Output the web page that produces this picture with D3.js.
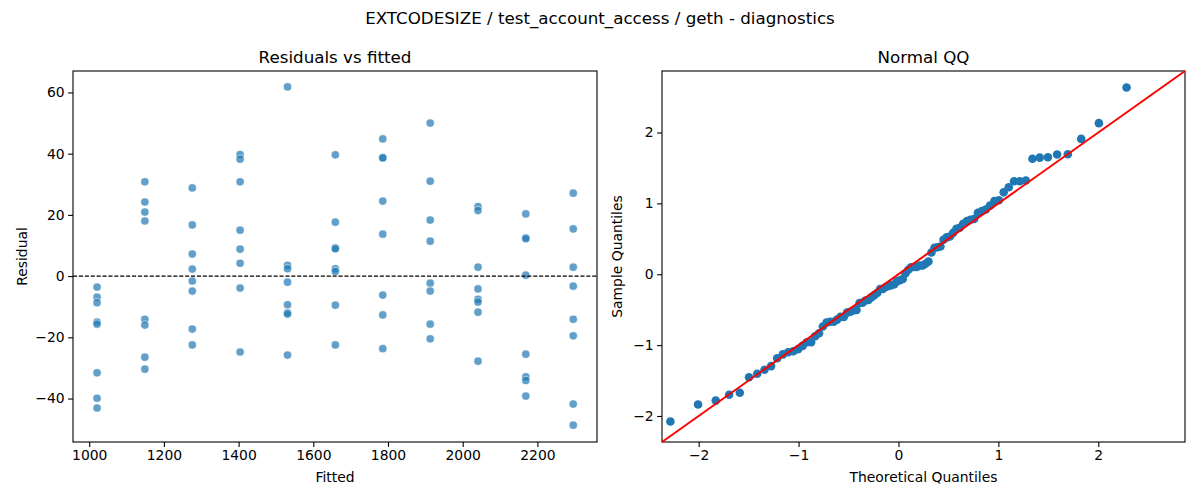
<!DOCTYPE html>
<html>
<head>
<meta charset="utf-8">
<script src="https://cdn.jsdelivr.net/npm/d3@7"></script>
<style>
  body { margin: 0; background: #fff; }
  text { font-family: "DejaVu Sans", sans-serif; fill: #000; }
</style>
</head>
<body>
<svg id="chart" width="1200" height="500"></svg>
<script>
// residuals vs fitted, one column of points per fitted level
const fittedLevels = [1021, 1149, 1276, 1404, 1531, 1659, 1786, 1913, 2041, 2169, 2296];
const residualsByLevel = [
  [-3.6, -6.9, -8.7, -15.0, -15.7, -31.6, -39.9, -43.1],
  [30.8, 24.2, 20.9, 18.0, -14.1, -16.0, -26.5, -30.4],
  [28.8, 16.7, 7.2, 2.3, -1.6, -4.9, -17.3, -22.5],
  [39.7, 38.2, 30.8, 15.0, 8.8, 4.2, -3.9, -24.8],
  [61.8, 3.5, 2.4, -2.0, -9.4, -12.0, -12.4, -25.8],
  [39.6, 17.6, 9.2, 8.9, 2.4, 1.5, -9.5, -22.5],
  [44.8, 38.7, 38.6, 24.5, 13.7, -6.2, -12.7, -23.7],
  [50.0, 31.0, 18.3, 11.4, -2.3, -4.9, -15.7, -20.5],
  [22.7, 21.4, 2.9, -4.2, -7.6, -8.5, -11.8, -27.8],
  [20.3, 12.5, 12.2, 0.3, -25.5, -32.9, -34.1, -39.2],
  [27.1, 15.4, 2.9, -3.3, -14.1, -19.5, -41.8, -48.7]
];
const fittedTicks = [1000, 1200, 1400, 1600, 1800, 2000, 2200];
const residualTicks = [-40, -20, 0, 20, 40, 60];

// normal QQ points
const theoreticalQ = [
  -2.283, -2.006, -1.829, -1.695, -1.588, -1.496, -1.414, -1.341, -1.275, -1.214,
  -1.157, -1.104, -1.053, -1.005, -0.960, -0.916, -0.874, -0.834, -0.795, -0.757,
  -0.720, -0.684, -0.648, -0.614, -0.580, -0.547, -0.515, -0.483, -0.451, -0.420,
  -0.390, -0.360, -0.330, -0.300, -0.271, -0.242, -0.213, -0.184, -0.156, -0.127,
  -0.099, -0.0705, -0.0423, -0.0141,
  0.0141, 0.0423, 0.0705, 0.099, 0.127, 0.156, 0.184, 0.213, 0.242, 0.271,
  0.300, 0.330, 0.360, 0.390, 0.420, 0.451, 0.483, 0.515, 0.547, 0.580,
  0.614, 0.648, 0.684, 0.720, 0.757, 0.795, 0.834, 0.874, 0.916, 0.960,
  1.005, 1.053, 1.104, 1.157, 1.214, 1.275, 1.341, 1.414, 1.496, 1.588,
  1.695, 1.829, 2.006, 2.283
];
const sampleQ = [
  -2.077, -1.838, -1.783, -1.701, -1.672, -1.454, -1.403, -1.348, -1.296, -1.186,
  -1.130, -1.100, -1.087, -1.058, -1.011, -0.959, -0.959, -0.874, -0.832, -0.738,
  -0.682, -0.670, -0.670, -0.640, -0.601, -0.601, -0.542, -0.529, -0.512, -0.503,
  -0.405, -0.401, -0.371, -0.362, -0.324, -0.294, -0.264, -0.209, -0.209, -0.179,
  -0.166, -0.154, -0.141, -0.098, -0.085, -0.068,
  0.013, 0.064, 0.098, 0.102, 0.102, 0.124, 0.124, 0.149, 0.179, 0.307,
  0.375, 0.380, 0.392, 0.486, 0.520, 0.533, 0.584, 0.640, 0.657, 0.712,
  0.751, 0.768, 0.780, 0.866, 0.891, 0.913, 0.968, 1.032, 1.045, 1.156,
  1.228, 1.313, 1.313, 1.322, 1.629, 1.646, 1.650, 1.689, 1.693, 1.910,
  2.132, 2.635
];
const qqTicks = [-2, -1, 0, 1, 2];
const qqLimits = [-2.367, 2.868];

const svg = d3.select('#chart');
const tickFont = '13.9px';
const labelFont = '13.9px';
const titleFont = '16.7px';
const intFmt = d3.format('d');

svg.append('text')
  .attr('x', 600).attr('y', 24)
  .attr('text-anchor', 'middle')
  .style('font-size', titleFont)
  .text('EXTCODESIZE / test_account_access / geth - diagnostics');

// draws frame, ticks, title and axis labels for one panel
function drawFrame(box, x, y, xTicks, yTicks, title, xLabel, yLabel, yLabelX) {
  const g = svg.append('g');
  g.append('g')
    .attr('transform', `translate(0,${box.bottom})`)
    .call(d3.axisBottom(x).tickValues(xTicks).tickFormat(intFmt)
      .tickSize(4.9).tickSizeOuter(0).tickPadding(3.5))
    .call(a => a.select('.domain').remove())
    .call(a => a.selectAll('text').style('font-size', tickFont).attr('font-family', null))
    .call(a => a.selectAll('line').attr('stroke', '#000').attr('stroke-width', 1.1));
  g.append('g')
    .attr('transform', `translate(${box.left},0)`)
    .call(d3.axisLeft(y).tickValues(yTicks).tickFormat(intFmt)
      .tickSize(4.9).tickSizeOuter(0).tickPadding(3.5))
    .call(a => a.select('.domain').remove())
    .call(a => a.selectAll('text').style('font-size', tickFont).attr('font-family', null))
    .call(a => a.selectAll('line').attr('stroke', '#000').attr('stroke-width', 1.1));
  g.append('rect')
    .attr('x', box.left).attr('y', box.top)
    .attr('width', box.right - box.left).attr('height', box.bottom - box.top)
    .attr('fill', 'none').attr('stroke', '#000').attr('stroke-width', 1.1);
  const cx = (box.left + box.right) / 2;
  g.append('text')
    .attr('x', cx).attr('y', box.top - 8.3)
    .attr('text-anchor', 'middle').style('font-size', titleFont)
    .text(title);
  g.append('text')
    .attr('x', cx).attr('y', 482)
    .attr('text-anchor', 'middle').style('font-size', labelFont)
    .text(xLabel);
  const cy = (box.top + box.bottom) / 2;
  g.append('text')
    .attr('transform', `translate(${yLabelX},${cy}) rotate(-90)`)
    .attr('text-anchor', 'middle').style('font-size', labelFont)
    .text(yLabel);
}

// left panel: residuals vs fitted
const leftBox = { left: 73, right: 597, top: 71, bottom: 442 };
const xFit = d3.scaleLinear().domain([956.6, 2359.6]).range([leftBox.left, leftBox.right]);
const yRes = d3.scaleLinear().domain([-54.2, 67.0]).range([leftBox.bottom, leftBox.top]);

const residPoints = fittedLevels.flatMap((f, i) => residualsByLevel[i].map(r => ({ f, r })));

drawFrame(leftBox, xFit, yRes, fittedTicks, residualTicks,
  'Residuals vs fitted', 'Fitted', 'Residual', 27);

svg.append('g')
  .selectAll('circle')
  .data(residPoints)
  .join('circle')
  .attr('cx', d => xFit(d.f))
  .attr('cy', d => yRes(d.r))
  .attr('r', 4.1)
  .attr('fill', '#1f77b4')
  .attr('fill-opacity', 0.7)
  .attr('stroke', '#fff')
  .attr('stroke-opacity', 0.7)
  .attr('stroke-width', 0.75);

svg.append('line')
  .attr('x1', leftBox.left).attr('x2', leftBox.right)
  .attr('y1', yRes(0)).attr('y2', yRes(0))
  .attr('stroke', '#000').attr('stroke-width', 1.1)
  .attr('stroke-dasharray', '4.1,1.8');

// right panel: normal QQ
const rightBox = { left: 662, right: 1185, top: 71, bottom: 442 };
const xQ = d3.scaleLinear().domain(qqLimits).range([rightBox.left, rightBox.right]);
const yQ = d3.scaleLinear().domain(qqLimits).range([rightBox.bottom, rightBox.top]);

drawFrame(rightBox, xQ, yQ, qqTicks, qqTicks,
  'Normal QQ', 'Theoretical Quantiles', 'Sample Quantiles', 622);

svg.append('g')
  .selectAll('circle')
  .data(d3.zip(theoreticalQ, sampleQ))
  .join('circle')
  .attr('cx', d => xQ(d[0]))
  .attr('cy', d => yQ(d[1]))
  .attr('r', 4.3)
  .attr('fill', '#1f77b4');

svg.append('line')
  .attr('x1', xQ(qqLimits[0])).attr('y1', yQ(qqLimits[0]))
  .attr('x2', xQ(qqLimits[1])).attr('y2', yQ(qqLimits[1]))
  .attr('stroke', 'red').attr('stroke-width', 2);
</script>
</body>
</html>
